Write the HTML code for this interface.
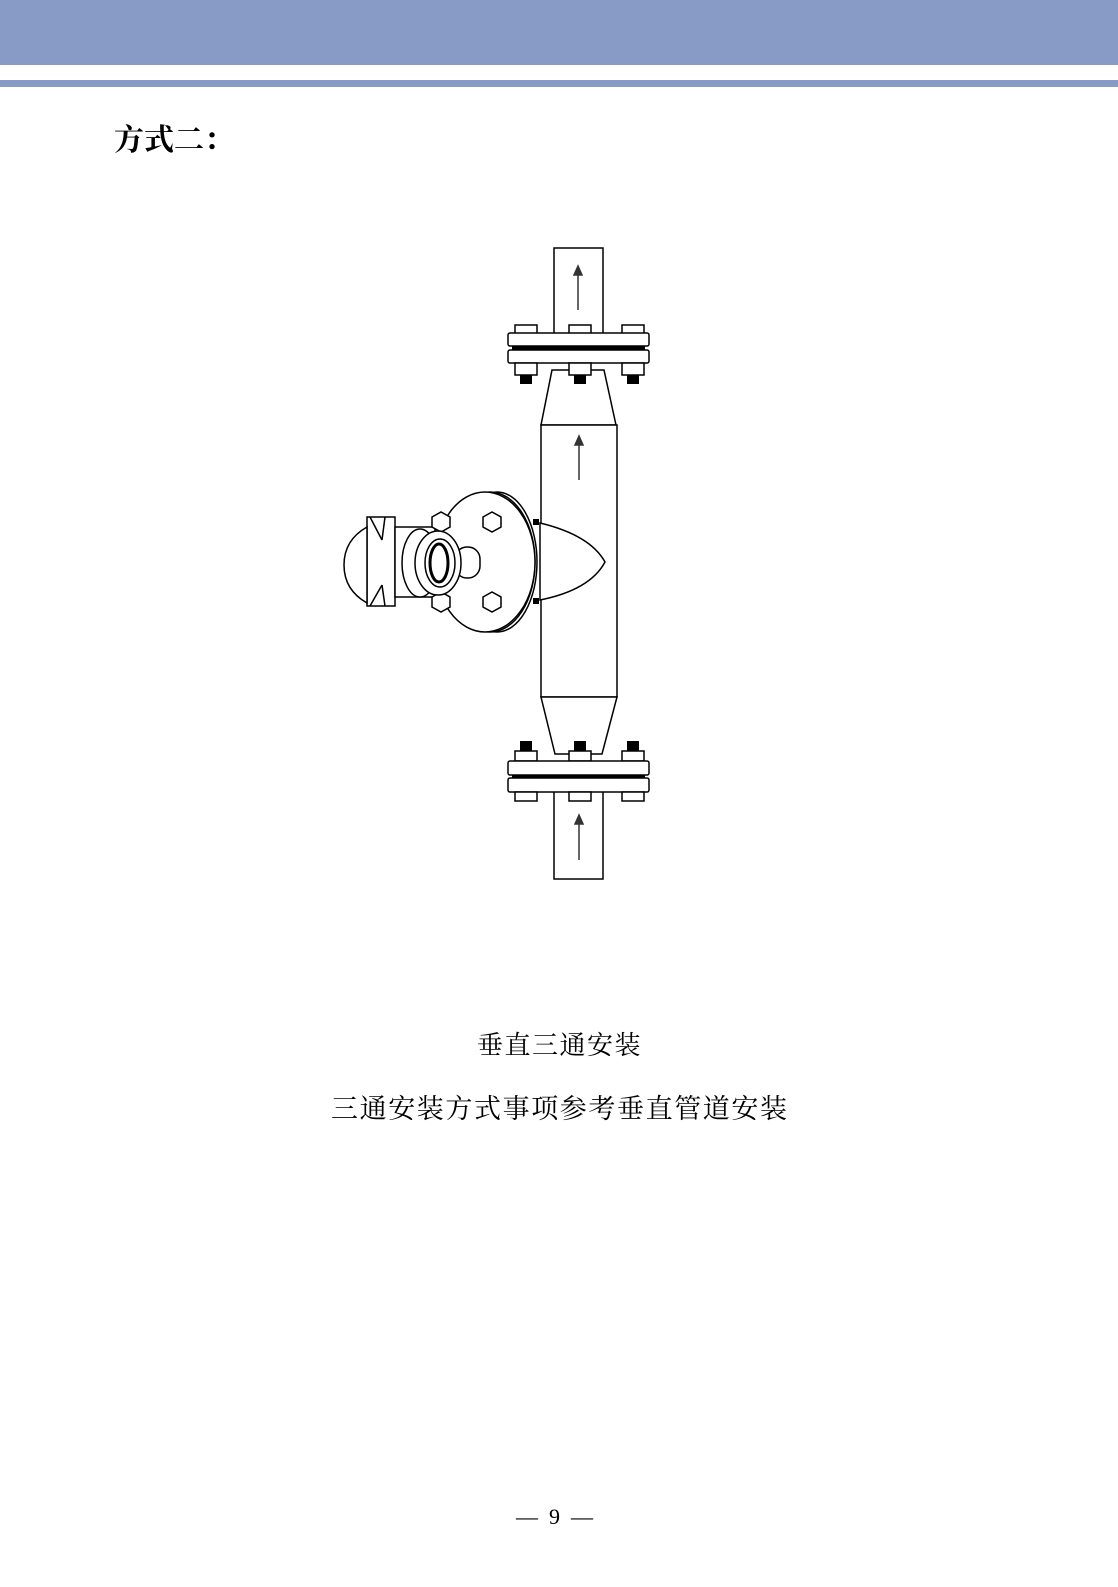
<!DOCTYPE html>
<html><head><meta charset="utf-8">
<style>
html,body{margin:0;padding:0;background:#fff;}
body{width:1118px;height:1587px;position:relative;overflow:hidden;font-family:"Liberation Serif","Noto Serif CJK SC",serif;}
.hd{position:absolute;left:0;top:0;width:1118px;height:65px;background:#879bc6;}
.hd2{position:absolute;left:0;top:80px;width:1118px;height:7px;background:#879bc6;}
.t{position:absolute;white-space:nowrap;color:#000;}
</style></head><body>
<div class="hd"></div><div class="hd2"></div>
<div class="t" style="left:114px;top:115px;font-size:30px;font-weight:bold;">方式二：</div>
<svg style="position:absolute;left:0;top:0" width="1118" height="1587" viewBox="0 0 1118 1587">
<g fill="#fff" stroke="#000" stroke-width="1.5">
<rect x="554" y="248" width="49" height="90"/>
<polygon points="552,370 604,370 616,425 541,425"/>
<rect x="541" y="425" width="76" height="272"/>
<polygon points="541,697 617,697 602,754 555,754"/>
<rect x="554" y="790" width="49" height="89"/>
<rect x="515" y="325" width="22" height="9"/><rect x="569" y="325" width="22" height="9"/><rect x="622" y="325" width="22" height="9"/>
<rect x="508" y="333" width="141" height="13" rx="2"/>
<rect x="508" y="350" width="141" height="13" rx="2"/>
<rect x="515" y="363" width="22" height="12"/><rect x="569" y="363" width="22" height="12"/><rect x="622" y="363" width="22" height="12"/>
<rect x="515" y="751" width="22" height="10"/><rect x="569" y="751" width="22" height="10"/><rect x="622" y="751" width="22" height="10"/>
<rect x="508" y="761" width="141" height="14" rx="2"/>
<rect x="508" y="778" width="141" height="14" rx="2"/>
<rect x="515" y="792" width="22" height="9"/><rect x="569" y="792" width="22" height="9"/><rect x="622" y="792" width="22" height="9"/>
</g>
<g fill="#000">
<rect x="520" y="375" width="12" height="9"/><rect x="574" y="375" width="12" height="9"/><rect x="627" y="375" width="12" height="9"/>
<rect x="520" y="741" width="12" height="10"/><rect x="574" y="741" width="12" height="10"/><rect x="627" y="741" width="12" height="10"/>
<rect x="512" y="346" width="133" height="4"/>
<rect x="512" y="775" width="133" height="3"/>
</g>
<g stroke="#333" stroke-width="1.5" fill="#333">
<line x1="578" y1="310" x2="578" y2="272"/><polygon points="578,266 574,275 582,275"/>
<line x1="579" y1="480" x2="579" y2="442"/><polygon points="579,436 575,445 583,445"/>
<line x1="579" y1="860" x2="579" y2="822"/><polygon points="579,815 575,824 583,824"/>
</g>
<g fill="#fff" stroke="#000" stroke-width="1.5">
<path d="M540,523 Q590,535 605,562 Q590,590 540,600 Z"/>
<ellipse cx="497" cy="562" rx="40" ry="70"/>
<ellipse cx="490" cy="562" rx="45" ry="70"/>
<ellipse cx="485" cy="562" rx="50" ry="70"/>
<rect x="455" y="547" width="25" height="31" rx="12"/>
<polygon points="483,517 492,512 501,517 501,527 492,532 483,527"/>
<polygon points="483,597 492,592 501,597 501,607 492,612 483,607"/>
<rect x="367" y="517" width="28" height="89"/>
<path d="M367,527 Q344,540 344,565 Q344,590 367,603 Z"/>
<rect x="395" y="527" width="40" height="70"/>
<ellipse cx="420" cy="563" rx="18" ry="34"/>
<polygon points="432,517 441,512 450,517 450,527 441,532 432,527"/>
<polygon points="432,597 441,592 450,597 450,607 441,612 432,607"/>
<ellipse cx="438" cy="563" rx="23" ry="32"/>
<ellipse cx="440" cy="563" rx="15" ry="24"/>
<ellipse cx="439" cy="563" rx="9" ry="19" stroke-width="3"/>
<line x1="370" y1="517" x2="382" y2="540"/><line x1="385" y1="517" x2="382" y2="540"/>
<line x1="370" y1="606" x2="382" y2="585"/><line x1="385" y1="606" x2="382" y2="585"/>
</g>
<g fill="#000"><rect x="533" y="519" width="6" height="6"/><rect x="533" y="598" width="6" height="6"/></g>
</svg>
<div class="t" style="left:477px;top:1025px;font-size:26px;letter-spacing:1.5px;">垂直三通安装</div>
<div class="t" style="left:331px;top:1087px;font-size:27px;letter-spacing:1.6px;">三通安装方式事项参考垂直管道安装</div>
<div class="t" style="left:516px;top:1504px;font-size:22px;">— &nbsp;9&nbsp; —</div>
</body></html>
